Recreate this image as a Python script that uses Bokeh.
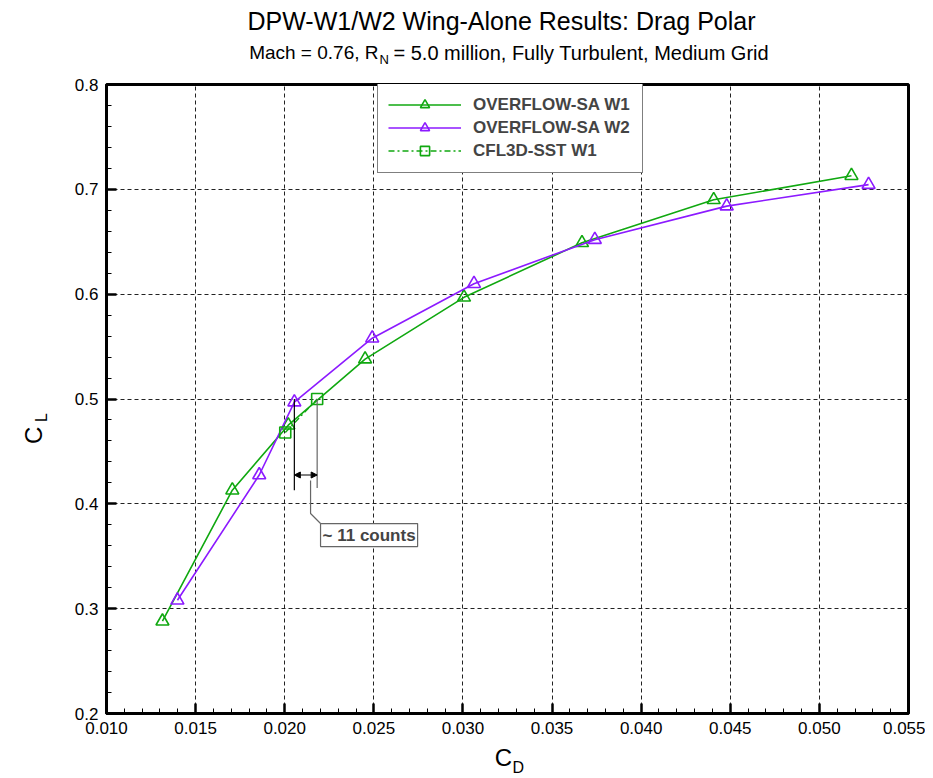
import numpy as np
from bokeh.plotting import figure
from bokeh.layouts import column, row
from bokeh.models import (Legend, LegendItem, Label, Arrow, NormalHead, FixedTicker, Range1d)
from bokeh.embed import file_html
from bokeh.resources import INLINE

# ---- data ----
w1_cd = [0.01314, 0.01706, 0.02020, 0.02451, 0.03006, 0.03668, 0.04407, 0.05180]
w1_cl = [0.288, 0.413, 0.475, 0.538, 0.597, 0.649, 0.690, 0.713]
w2_cd = [0.01398, 0.01857, 0.02054, 0.02491, 0.03062, 0.03740, 0.04480, 0.05276]
w2_cl = [0.308, 0.4275, 0.497, 0.558, 0.610, 0.652, 0.684, 0.7045]
cfl_cd = [0.02003, 0.02182]
cfl_cl = [0.468, 0.500]

x_ticks = [0.010, 0.015, 0.020, 0.025, 0.030, 0.035, 0.040, 0.045, 0.050, 0.055]
x_labels = ["0.010", "0.015", "0.020", "0.025", "0.030", "0.035", "0.040", "0.045", "0.050", "0.055"]
y_ticks = [0.2, 0.3, 0.4, 0.5, 0.6, 0.7, 0.8]
y_labels = ["0.2", "0.3", "0.4", "0.5", "0.6", "0.7", "0.8"]

# annotation values (~11 drag counts between W2 and CFL3D at CL = 0.5)
ann_bottom_cl = [0.413, 0.415]
ann_arrow_cl = 0.4275
leader_x = [0.02145, 0.02145, 0.02201]
leader_y = [0.4222, 0.3908, 0.3812]
ann_text = "~ 11 counts"

GREEN = "#10a810"
PURPLE = "#8c1aff"
FONT = "Liberation Sans"

TOTAL_W = 925
HEAD_H = 66
MAIN_H = 676
FOOT_H = 34
YLAB_W = 60

# ---- main plot ----
p = figure(width=TOTAL_W - YLAB_W, height=MAIN_H, output_backend="svg", toolbar_location=None,
           x_range=Range1d(0.010, 0.055), y_range=Range1d(0.2, 0.8),
           min_border_left=46, min_border_right=17, min_border_top=18, min_border_bottom=29,
           background_fill_color="white", border_fill_color="white")

p.outline_line_color = "black"
p.outline_line_width = 3
p.outline_line_alpha = 1

for ax, ticks, labels in ((p.xaxis[0], x_ticks, x_labels), (p.yaxis[0], y_ticks, y_labels)):
    minor = []
    for i in range(len(ticks) - 1):
        step = (ticks[i + 1] - ticks[i]) / 5
        minor += [ticks[i] + step * k for k in range(1, 5)]
    ax.ticker = FixedTicker(ticks=ticks, minor_ticks=minor)
    ax.major_label_overrides = {t: l for t, l in zip(ticks, labels)}
    ax.axis_line_width = 3
    ax.axis_line_color = "black"
    ax.major_tick_in = 10
    ax.major_tick_out = 0
    ax.minor_tick_in = 5
    ax.minor_tick_out = 0
    ax.major_tick_line_width = 2.5
    ax.minor_tick_line_width = 1
    ax.major_label_text_font = FONT
    ax.major_label_text_font_size = "17px"
    ax.major_label_text_color = "black"
    ax.major_label_standoff = 8

for g in (p.xgrid[0], p.ygrid[0]):
    g.grid_line_color = "#222222"
    g.grid_line_dash = "4 3"
    g.grid_line_width = 1

# ---- series ----
r1l = p.line(w1_cd, w1_cl, line_color=GREEN, line_width=1.6)
r1m = p.scatter(w1_cd, w1_cl, marker="triangle", size=13, line_color=GREEN, line_width=1.6,
                fill_color=None)
r2l = p.line(w2_cd, w2_cl, line_color=PURPLE, line_width=1.6)
r2m = p.scatter(w2_cd, w2_cl, marker="triangle", size=13, line_color=PURPLE, line_width=1.6,
                fill_color=None)
r3l = p.line(cfl_cd, cfl_cl, line_color=GREEN, line_width=1.4, line_dash="6 3 2 3")
r3m = p.scatter(cfl_cd, cfl_cl, marker="square", size=11, line_color=GREEN, line_width=1.6,
                fill_color=None)

# ---- ~11 counts annotation ----
p.line([w2_cd[2], w2_cd[2]], [cfl_cl[1], ann_bottom_cl[0]], line_color="black", line_width=1.2)
p.line([cfl_cd[1], cfl_cd[1]], [cfl_cl[1], ann_bottom_cl[1]], line_color="#666666", line_width=1.2)
p.add_layout(Arrow(start=NormalHead(size=6, fill_color="black", line_color="black"),
                   end=NormalHead(size=6, fill_color="black", line_color="black"),
                   x_start=w2_cd[2], y_start=ann_arrow_cl, x_end=cfl_cd[1], y_end=ann_arrow_cl,
                   line_color="black", line_width=1))
p.line(leader_x, leader_y, line_color="#666666", line_width=1.2)
p.add_layout(Label(x=leader_x[2], y=leader_y[2], text=ann_text, text_font=FONT,
                   text_font_size="17px", text_font_style="bold", text_baseline="top",
                   text_align="left", padding=2,
                   background_fill_color="white", border_line_color="#666666",
                   border_line_width=1.2))

# ---- legend ----
legend = Legend(items=[
    LegendItem(label="OVERFLOW-SA W1", renderers=[r1l, r1m]),
    LegendItem(label="OVERFLOW-SA W2", renderers=[r2l, r2m]),
    LegendItem(label="CFL3D-SST W1", renderers=[r3l, r3m]),
], location=(271, 540), orientation="vertical", padding=10, spacing=0, margin=0,
    glyph_width=73, glyph_height=23, label_height=23, label_width=159, label_standoff=12,
    label_text_font=FONT, label_text_font_size="17px", label_text_font_style="bold",
    border_line_color="black", border_line_width=1, background_fill_color="white",
    background_fill_alpha=1)
p.add_layout(legend, "center")


# ---- text panels (title, axis labels) ----
def text_fig(w, h):
    f = figure(width=w, height=h, x_range=Range1d(0, w), y_range=Range1d(0, h),
               x_axis_type=None, y_axis_type=None, toolbar_location=None,
               output_backend="svg", min_border=0, outline_line_color=None,
               background_fill_color="white", border_fill_color="white")
    return f


def lab(f, x, y, text, size, align="center", angle=0):
    f.add_layout(Label(x=x, y=y, text=text, text_font=FONT, text_font_size=size,
                       text_align=align, text_baseline="middle", angle=angle,
                       text_color="black"))


head = text_fig(TOTAL_W, HEAD_H)
lab(head, 501, HEAD_H - 20, "DPW-W1/W2 Wing-Alone Results: Drag Polar", "25px")
lab(head, 378, HEAD_H - 52, "Mach = 0.76, R", "19px", align="right")
lab(head, 379, HEAD_H - 59, "N", "13px", align="left")
lab(head, 393, HEAD_H - 52, "= 5.0 million, Fully Turbulent, Medium Grid", "20px", align="left")

ylab = text_fig(YLAB_W, MAIN_H)
y0 = HEAD_H + MAIN_H
lab(ylab, 33, y0 - 443, "C", "24px", angle=np.pi / 2)
lab(ylab, 41, y0 - 424, "L", "16px", angle=np.pi / 2)

foot = text_fig(TOTAL_W, FOOT_H)
f0 = HEAD_H + MAIN_H + FOOT_H
lab(foot, 503, f0 - 757, "C", "24px")
lab(foot, 512, f0 - 767, "D", "16px", align="left")

layout = column(head, row(ylab, p, spacing=0), foot, spacing=0)

open("out.html", "w").write(file_html(layout, INLINE))
